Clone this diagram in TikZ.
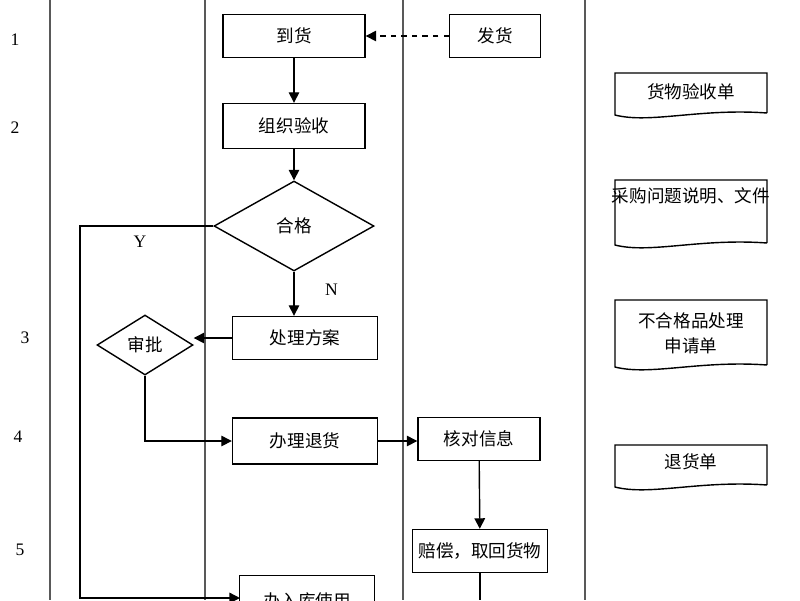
\documentclass[tikz,border=0pt]{standalone}
\usepackage{fontspec}
\newfontfamily\cjk{Noto Sans CJK SC}
\setmainfont{Liberation Serif}
\usetikzlibrary{shapes.geometric, arrows.meta}

\tikzset{
  proc/.style={draw, thick, font=\cjk, minimum height=0.86cm, align=center},
  test/.style={draw, thick, diamond, aspect=1.75, font=\cjk, inner sep=1pt},
  doc/.style={font=\cjk, minimum width=3.04cm, align=center, inner sep=1pt},
  flow/.style={thick, -{Triangle[length=6pt, width=6pt]}},
  lane/.style={gray!70!black, semithick}
}

\begin{document}
\begin{tikzpicture}[x=0.02cm, y=-0.02cm]
  \useasboundingbox (0, 0) rectangle (800, 600);
  \clip (0, 0) rectangle (800, 600);

  % lanes
  \foreach \x in {50, 205, 403, 585}
    \draw[lane] (\x, 0) -- (\x, 600);

  % row numbers
  \foreach \x/\y/\n in {15/40/1, 15/128/2, 25/338/3, 18/437/4, 20/550/5}
    \node at (\x, \y) {\n};

  \node[proc, minimum width=2.84cm] (arrive) at (294, 36) {到货};
  \node[proc, minimum width=1.82cm] (ship) at (495, 36) {发货};
  \node[proc, minimum width=2.84cm, minimum height=0.9cm] (inspect) at (294, 126) {组织验收};
  \node[test, minimum width=3.2cm, minimum height=1.8cm] (ok) at (294, 226) {合格};
  \node[proc, minimum width=2.9cm] (plan) at (305, 338) {处理方案};
  \node[test, minimum width=1.92cm, minimum height=1.2cm] (approve) at (145, 345) {审批};
  \node[proc, minimum width=2.9cm, minimum height=0.92cm] (return) at (305, 441) {办理退货};
  \node[proc, minimum width=2.44cm] (check) at (479, 439) {核对信息};
  \node[proc, minimum width=2.4cm] (refund) at (480, 551) {赔偿，取回货物};
  \node[proc, minimum width=2.7cm, minimum height=1cm, anchor=north] (store) at (307, 575) {办入库使用};
  \coordinate (end) at (480, 600);
  \coordinate (turn) at (80, 226);
  \coordinate (entry) at (240, 598);

  % documents
  \foreach \y/\h in {73/45, 180/68, 300/70, 445/45}
    \draw[thick] (767, \y+\h-5) -- (767, \y) -- (615, \y) -- (615, \y+\h-3)
      .. controls (650, \y+\h+6) and (700, \y+\h-10) .. (767, \y+\h-5);
  \node[doc] (d1) at (691, 92) {货物验收单};
  \node[doc] (d2) at (691, 196) {采购问题说明、文件};
  \node[doc] (d3) at (691, 333) {不合格品处理\\[2pt]申请单};
  \node[doc] (d4) at (691, 462) {退货单};

  % connectors
  \draw[flow, dashed] (ship) -- (arrive);
  \draw[flow] (arrive) -- (inspect);
  \draw[flow] (inspect) -- (ok);
  \draw[flow] (ok.south) -- node[pos=0.4, right=14pt] {N} (ok.south |- plan.north);
  \draw[flow] (plan) -- (plan -| approve.east);
  \draw[flow] (approve.south) |- (return);
  \draw[flow] (return) -- (return -| check.west);
  \draw[flow] (check) -- (refund);
  \draw[thick] (refund) -- (end);
  \draw[flow] (ok.west) -- node[pos=0.55, below=2pt] {Y} (turn) |- (entry);
\end{tikzpicture}
\end{document}
